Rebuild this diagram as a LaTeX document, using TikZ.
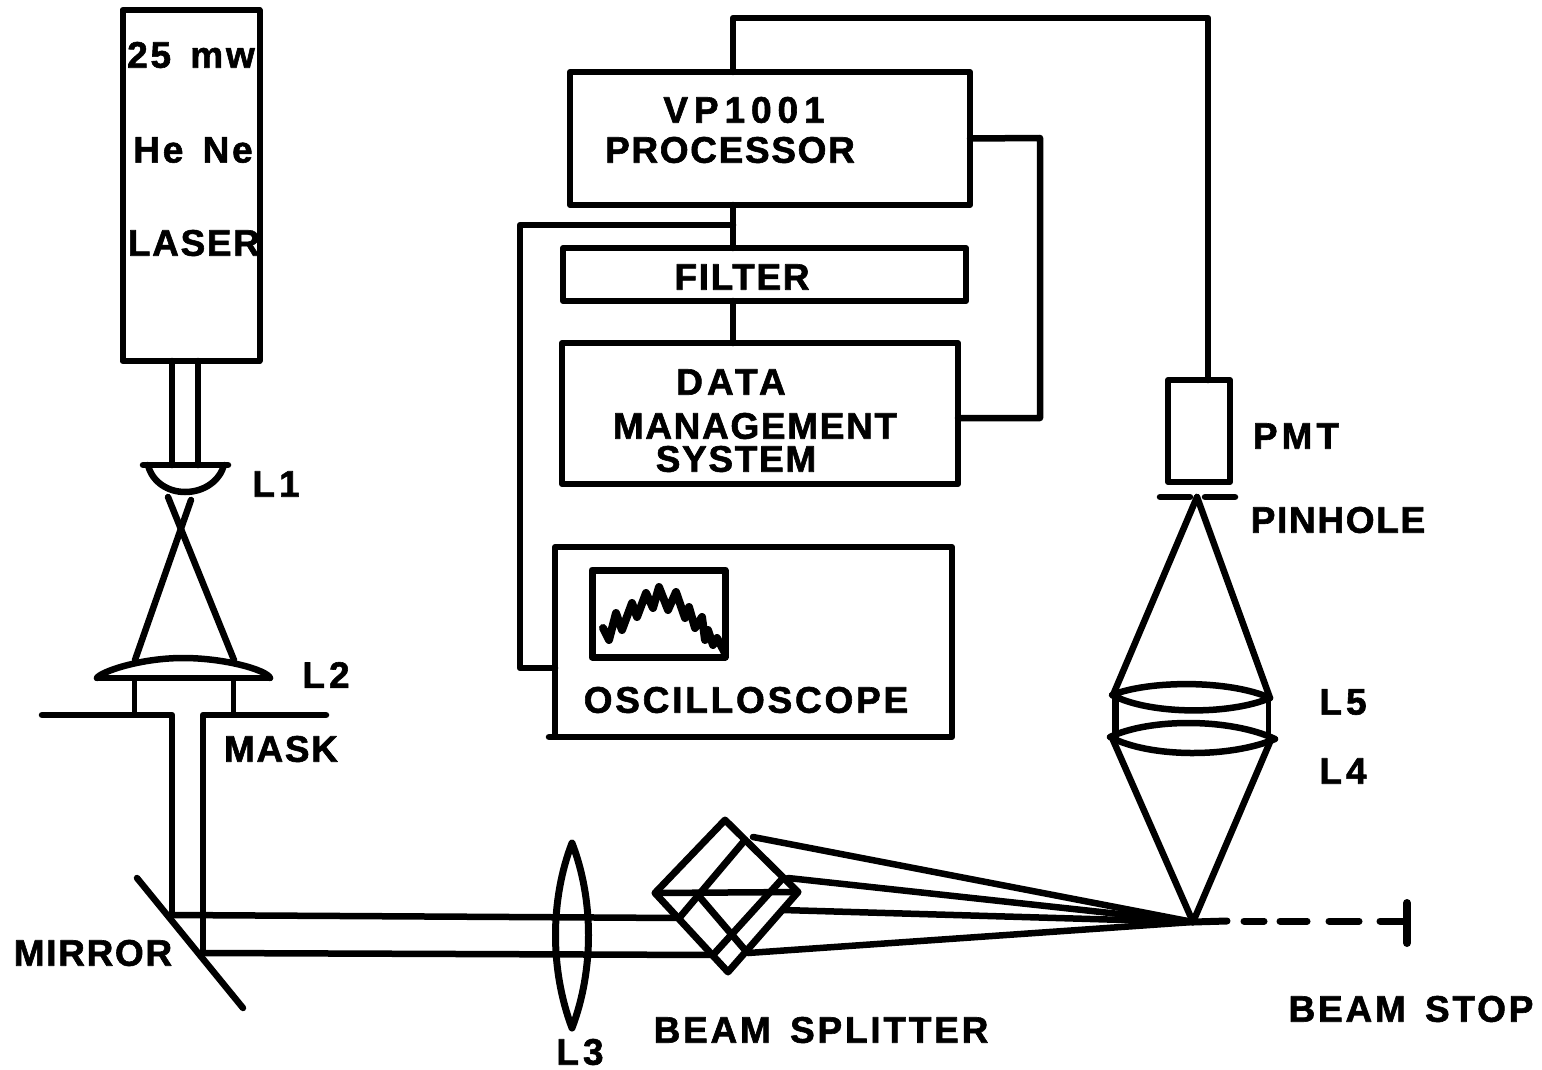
\documentclass[tikz,border=0pt]{standalone}
\usepackage{fontspec}
\setmainfont{Liberation Sans}[BoldFont={Liberation Sans Bold}]
\newfontfamily\lblfont{Liberation Sans Bold}[LetterSpace=4.5,FakeBold=1.6]
\newfontfamily\lblfontm{Liberation Sans Bold}[LetterSpace=7.5,FakeBold=1.6]
\newfontfamily\lblfontw{Liberation Sans Bold}[LetterSpace=11,FakeBold=1.6]
\newfontfamily\lblfontx{Liberation Sans Bold}[LetterSpace=16,FakeBold=1.6]
\begin{document}
\begin{tikzpicture}[x=1pt,y=-1pt,line cap=round,line join=round,
  ln/.style={line width=6.5pt},
  thin ln/.style={line width=5pt},
  boxn/.style={draw,line width=6pt,inner sep=0pt,outer sep=0pt},
  lbl/.style={inner sep=0pt,font=\lblfont\fontsize{37}{37}\selectfont},
  lblm/.style={inner sep=0pt,font=\lblfontm\fontsize{37}{37}\selectfont},
  lblw/.style={inner sep=0pt,font=\lblfontw\fontsize{37}{37}\selectfont},
  lblx/.style={inner sep=0pt,font=\lblfontx\fontsize{37}{37}\selectfont}]
\useasboundingbox (0,0) rectangle (1542,1070);
% boxes
\node[boxn,minimum width=137pt,minimum height=351pt] (laser) at (191,185.5) {};
\node[boxn,minimum width=400pt,minimum height=133pt] (vp) at (770,138.5) {};
\node[boxn,minimum width=403pt,minimum height=53pt] (filter) at (764.5,274.5) {};
\node[boxn,minimum width=396pt,minimum height=141pt] (dms) at (760,413.5) {};
\node[boxn,minimum width=397pt,minimum height=190pt] (scope) at (753.5,642) {};
\node[boxn,line width=7pt,minimum width=133pt,minimum height=87pt] (screen) at (658.5,613.5) {};
\node[boxn,minimum width=62pt,minimum height=102pt] (pmt) at (1199,431) {};
% labels
\node[lblm] (t1) at (191,55) {25\ \,mw};
\node[lblm] (t2) at (193,150) {He\ \,Ne};
\node[lbl] (t3) at (194,243) {LASER};
\node[lblx] (t4) at (744,110) {VP1001};
\node[lbl] (t5) at (730,150) {PROCESSOR};
\node[lbl] (t6) at (742,277) {FILTER};
\node[lblw] (t7) at (731,382) {DATA};
\node[lbl] (t8) at (755,426) {MANAGEMENT};
\node[lbl] (t9) at (736,459) {SYSTEM};
\node[lblm] (t10) at (746,700) {OSCILLOSCOPE};
\node[lblw] (t11) at (276,484) {L1};
\node[lblw] (t12) at (326,675) {L2};
\node[lbl] (t13) at (281,749) {MASK};
\node[lbl] (t14) at (93,953) {MIRROR};
\node[lblw] (t15) at (580,1052) {L3};
\node[lblm] (t16) at (821,1030) {BEAM\ \,SPLITTER};
\node[lblm] (t17) at (1411,1009) {BEAM\ \,STOP};
\node[lblw] (t18) at (1343,702) {L5};
\node[lblw] (t19) at (1343,771) {L4};
\node[lblw] (t20) at (1296,436) {PMT};
\node[lbl] (t21) at (1338,520) {PINHOLE};
% electronic connectors
\draw[ln] ([xshift=9pt]pmt.north) -- (1208,18) -- (733,18) -- ([xshift=-37pt]vp.north);
\draw[ln] (vp.east) -- (1040,138) -- (1040,418) -- ([yshift=-4.5pt]dms.east);
\draw[ln] ([xshift=-37pt]vp.south) -- ([xshift=-31.5pt]filter.north);
\draw[ln] ([xshift=-31.5pt]filter.south) -- ([xshift=-27pt]dms.north);
\coordinate (tap) at (733,225);
\draw[ln] (tap) -- (520,225) -- (520,668) -- ([yshift=-26pt]scope.west);
% scope box bottom overhang and trace
\draw[ln] (scope.south west) -- ++(-6,0);
\draw[line width=8pt] (603,628) -- (609,640) -- (616,613) -- (622,630) -- (632,603) -- (637,617) -- (646,593) -- (653,608) -- (659,587) -- (668,610) -- (676,592) -- (685,618) -- (689,607) -- (695,628) -- (702,617) -- (705,640) -- (708,630) -- (713,645) -- (717,638) -- (725,653);
% laser beam, L1
\coordinate (l1a) at (172,465); \coordinate (l1b) at (198,465);
\draw[ln] ([xshift=-19pt]laser.south) -- (l1a);
\draw[ln] ([xshift=7pt]laser.south) -- (l1b);
\draw[ln] (143,465) -- (228,465);
\draw[ln] (148,465) .. controls (152,482) and (168,492) .. (185,492) .. controls (205,492) and (220,480) .. (224,465);
\draw[ln] (168,497) -- (234,660);
\draw[ln] (191,500) -- (135,660);
% L2
\draw[ln] (97,678) -- (270,678);
\draw[ln] (97,678) .. controls (100,672) and (140,658) .. (183,658) .. controls (225,658) and (267,670) .. (270,678);
\draw[thin ln] (134,678) -- (134,715);
\draw[thin ln] (233,678) -- (233,715);
% mask
\draw[ln] (42,715) -- (172,715) -- (172,915);
\draw[ln] (326,715) -- (203,715) -- (203,953);
% mirror
\draw[ln] (137,878) -- (243,1008);
% beams
\draw[ln] (172,915) -- (680,918);
\draw[ln] (203,953) -- (713,955);
% L3
\draw[line width=7pt] (572,843) .. controls (550,900) and (550,970) .. (572,1028) .. controls (594,970) and (594,900) .. (572,843);
% beam splitter
\draw[line width=7pt] (725,820) -- (798,892) -- (728,972) -- (655,893) -- cycle;
\draw[ln] (655,893) -- (798,892);
\draw[line width=7pt] (680,917) -- (745,840);
\draw[line width=7pt] (713,955) -- (783,878);
\draw[line width=7pt] (698,895) -- (745,950);
\coordinate (focus) at (1193,922);
\draw[ln] (753,837) -- (focus);
\draw[ln] (788,878) -- (focus);
\draw[ln] (783,910) -- (focus);
\draw[ln] (748,953) -- (focus);
% beam stop
\draw[line width=7pt] (focus) -- (1227,921);
\draw[line width=7pt] (1244,921) -- (1264,921);
\draw[line width=7pt] (1280,921) -- (1307,921);
\draw[line width=7pt] (1329,921) -- (1359,921);
\draw[line width=7pt] (1380,921) -- (1407,921);
\draw[line width=8pt] (1407,903) -- (1407,943);
% collection optics
\draw[ln] (focus) -- (1113,740);
\draw[ln] (focus) -- (1270,742);
\draw[ln] (1197,497) -- (1113,695);
\draw[ln] (1197,497) -- (1270,698);
\draw[ln] (1160,497) -- (1190,497);
\draw[ln] (1205,497) -- (1235,497);
% L5
\draw[ln] (1112,695) .. controls (1150,680) and (1230,680) .. (1270,698) .. controls (1230,715) and (1150,715) .. (1112,695);
% L4
\draw[ln] (1110,737) .. controls (1150,718) and (1230,718) .. (1275,739) .. controls (1230,758) and (1150,758) .. (1110,737);
\draw[line width=7pt] (1115,695) -- (1115,737);
\draw[thin ln] (1268,698) -- (1268,739);
\end{tikzpicture}
\end{document}
